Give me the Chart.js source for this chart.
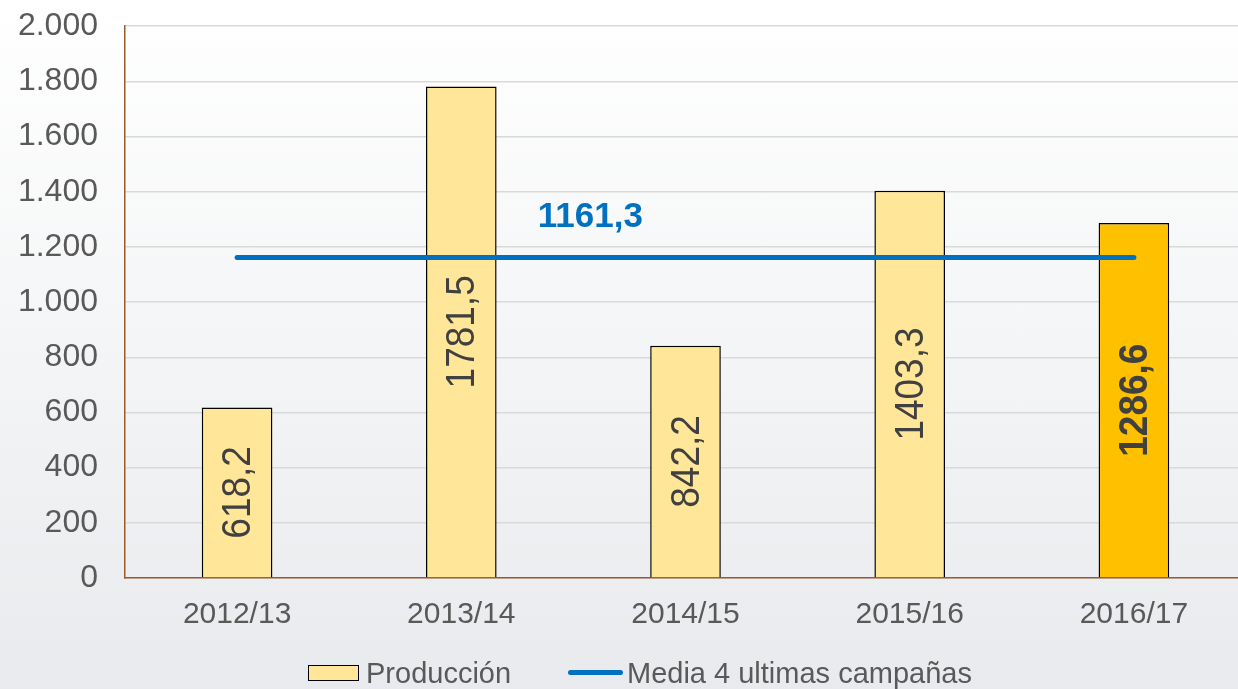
<!DOCTYPE html>
<html><head><meta charset="utf-8">
<script src="https://cdn.jsdelivr.net/npm/chart.js@4/dist/chart.umd.min.js"></script>
<style>
html,body{margin:0;padding:0;}
#wrap{position:relative;width:1238px;height:689px;background:linear-gradient(180deg,#ffffff 0%,#f5f6f7 45%,#e9eaed 100%);overflow:hidden;font-family:"Liberation Sans",Arial,sans-serif;}
canvas{position:absolute;left:0;top:-20px;}
#legend{position:absolute;left:0;top:656px;width:1238px;height:34px;color:#595959;font-size:29px;}
.lg{position:absolute;top:0;line-height:34px;white-space:nowrap;}
.box{position:absolute;width:49px;height:14px;background:#FFE699;border:1.5px solid #000;top:9px;}
.ln{position:absolute;width:55px;height:5px;background:#0070C0;border-radius:3px;top:14px;}
</style></head>
<body>
<div id="wrap">
<canvas id="c" width="1246" height="709"></canvas>
<div id="legend">
  <span class="box" style="left:308px"></span><span class="lg" style="left:366px">Producción</span>
  <span class="ln" style="left:568px"></span><span class="lg" style="left:627px">Media 4 ultimas campañas</span>
</div>
</div>
<script>
const categories = ["2012/13","2013/14","2014/15","2015/16","2016/17"];
const produccion = [618.2, 1781.5, 842.2, 1403.3, 1286.6];
const media = [1161.3, 1161.3, 1161.3, 1161.3, 1161.3];
const mediaLabel = "1161,3";
const barColors = ["#FFE699","#FFE699","#FFE699","#FFE699","#FFC000"];
const yTicks = [0,200,400,600,800,1000,1200,1400,1600,1800,2000];

const fmt = v => v.toFixed(1).replace('.', ',');
const fmtTick = v => v >= 1000 ? Math.floor(v/1000) + '.' + String(v%1000).padStart(3,'0') : String(v);
const FONT = '"Liberation Sans", Arial, sans-serif';

const labelPlugin = {
  id:'labels',
  afterDatasetsDraw(chart){
    const ctx = chart.ctx;
    const meta = chart.getDatasetMeta(1);
    meta.data.forEach((bar,i)=>{
      const last = i === produccion.length-1;
      ctx.save();
      ctx.translate(bar.x, (bar.y+bar.base)/2);
      ctx.rotate(-Math.PI/2);
      ctx.scale(1,1.08);
      ctx.font = (last?'bold ':'') + '37px ' + FONT;
      ctx.fillStyle = '#404040';
      ctx.textAlign='center'; ctx.textBaseline='middle';
      ctx.fillText(fmt(produccion[i]),0,2);
      ctx.restore();
    });
    const xs = chart.scales.x, ys = chart.scales.y;
    ctx.save();
    ctx.font = 'bold 35px ' + FONT;
    ctx.fillStyle = '#0070C0';
    ctx.textAlign='center'; ctx.textBaseline='middle';
    ctx.fillText(mediaLabel, xs.getPixelForValue(1.5)+17, ys.getPixelForValue(media[0])-40);
    ctx.restore();
  }
};

new Chart(document.getElementById('c'),{
  data:{
    labels:categories,
    datasets:[
      {type:'line',label:'Media 4 ultimas campañas',data:media,borderColor:'#0070C0',borderWidth:5,pointRadius:0,borderCapStyle:'round',order:0},
      {type:'bar',label:'Producción',data:produccion,backgroundColor:barColors,borderColor:'#000',borderWidth:1.5,barPercentage:0.315,categoryPercentage:1,order:1}
    ]
  },
  options:{
    responsive:false,animation:false,
    layout:{padding:{top:8,right:0,left:0,bottom:0}},
    plugins:{legend:{display:false},tooltip:{enabled:false}},
    scales:{
      x:{
        grid:{display:false,drawTicks:false},
        border:{color:'#9a5a2e',width:1.5},
        ticks:{color:'#595959',font:{size:30,family:FONT},padding:19},
        afterFit(s){s.height=111;}
      },
      y:{
        min:0,max:2000,
        afterBuildTicks(s){s.ticks = yTicks.map(v=>({value:v}));},
        grid:{color:'#d9d9d9',lineWidth:1.5,drawTicks:false},
        border:{color:'#9a5a2e',width:1.5},
        ticks:{color:'#595959',font:{size:32,family:FONT},padding:27,callback:v=>fmtTick(v)},
        afterFit(s){s.width=125;}
      }
    }
  },
  plugins:[labelPlugin]
});
</script>
</body></html>
